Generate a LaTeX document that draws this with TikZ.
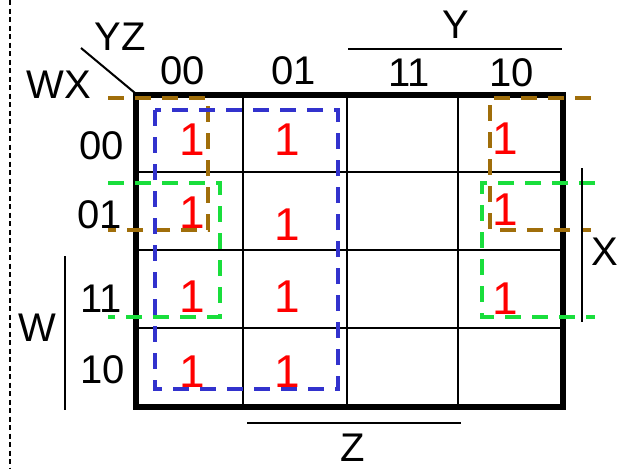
\documentclass[tikz,border=0pt]{standalone}
\usepackage{fontspec}
\setmainfont{Liberation Sans}
\definecolor{kbrown}{RGB}{160,110,10}
\definecolor{kgreen}{RGB}{25,222,60}
\definecolor{kblue}{RGB}{50,50,205}
\definecolor{kred}{RGB}{255,0,0}
\begin{document}
\begin{tikzpicture}[x=1pt,y=-1pt,
  lbl/.style={inner sep=0pt,font=\fontsize{40}{48}\selectfont},
  one/.style={inner sep=0pt,text=kred,font=\fontsize{46}{54}\selectfont},
  thin/.style={line width=2.8pt},
  axis/.style={line width=2pt},
  grp/.style={line width=4pt,dash pattern=on 16pt off 11pt}]
\useasboundingbox (0,0) rectangle (625,469);
% left dashed separator
\draw[line width=2pt,dash pattern=on 5pt off 3.5pt] (10,0) -- (10,469);
% grid
\draw[thin] (243,95) -- (243,407);
\draw[thin] (347,95) -- (347,407);
\draw[thin] (458,95) -- (458,407);
\draw[thin] (136,172) -- (563,172);
\draw[thin] (136,250) -- (563,250);
\draw[thin] (136,328) -- (563,328);
\draw[line width=5.5pt] (136,95) rectangle (563,407);
% corner diagonal
\draw[axis] (81,48) -- (135,93);
% group rectangles
\draw[grp,kbrown] (108,98) -- (208,98) -- (208,230) -- (108,230);
\draw[grp,kbrown] (591,98) -- (490,98) -- (490,230) -- (591,230);
\draw[grp,kgreen] (108,183) -- (220,183) -- (220,317) -- (108,317);
\draw[grp,kgreen] (595,183) -- (482,183) -- (482,317) -- (595,317);
\draw[grp,kblue] (155,110) rectangle (338,389);
% variable bars
\draw[axis] (348,49) -- (562,49);
\draw[axis] (582,168) -- (582,322);
\draw[axis] (65,256) -- (65,410);
\draw[axis] (247,423) -- (461,423);
% labels
\node[lbl] (yz) at (120,37) {YZ};
\node[lbl] (wx) at (59,85) {WX};
\node[lbl] (c00) at (183,71) {00};
\node[lbl] (c01) at (294,71) {01};
\node[lbl] (c11) at (409,73) {11};
\node[lbl] (c10) at (512,73) {10};
\node[lbl,anchor=east] (r00) at (124,146) {00};
\node[lbl,anchor=east] (r01) at (122,215) {01};
\node[lbl,anchor=east] (r11) at (122,299) {11};
\node[lbl,anchor=east] (r10) at (125,370) {10};
\node[lbl] (ly) at (456,25) {Y};
\node[lbl] (lx) at (605,252) {X};
\node[lbl] (lw) at (37,328) {W};
\node[lbl] (lz) at (353,448) {Z};
% ones
\node[one] (m0) at (192,140) {1};
\node[one] (m1) at (287,140) {1};
\node[one] (m2) at (505,139) {1};
\node[one] (m4) at (192,213) {1};
\node[one] (m5) at (287,225) {1};
\node[one] (m6) at (505,210) {1};
\node[one] (m12) at (192,297) {1};
\node[one] (m13) at (287,297) {1};
\node[one] (m14) at (505,299) {1};
\node[one] (m8) at (192,372) {1};
\node[one] (m9) at (287,372) {1};
\end{tikzpicture}
\end{document}
